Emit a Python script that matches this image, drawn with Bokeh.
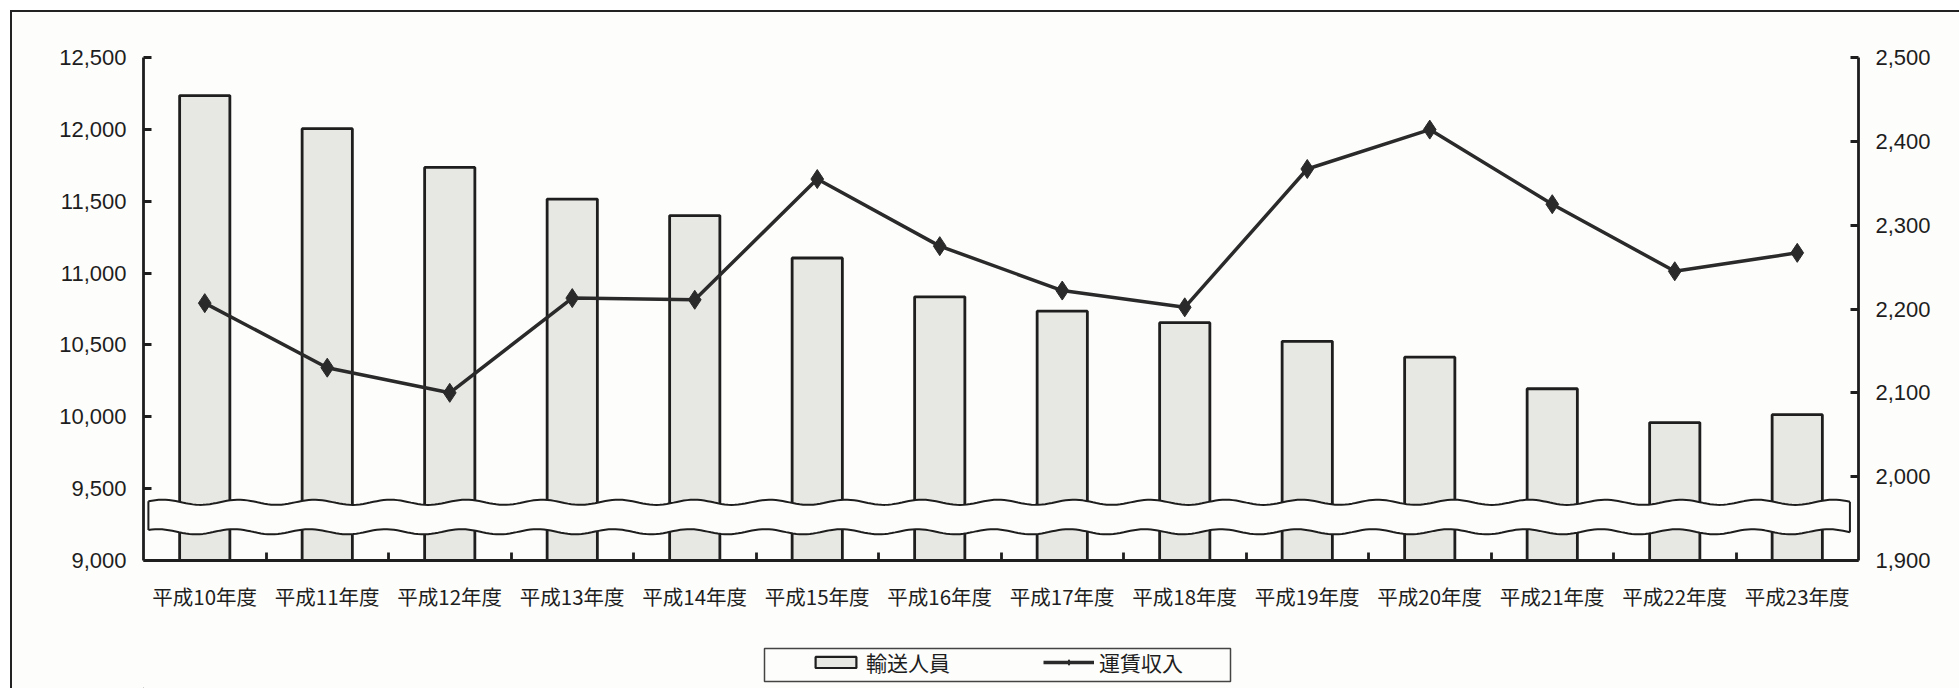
import numpy as np
from bokeh.plotting import figure
from bokeh.layouts import column
from bokeh.models import (Range1d, LinearAxis, FixedTicker, NumeralTickFormatter,
                          Legend, LegendItem)
from bokeh.embed import file_html
from bokeh.resources import INLINE

# ---- data ----
categories = ["平成10年度", "平成11年度", "平成12年度", "平成13年度", "平成14年度",
              "平成15年度", "平成16年度", "平成17年度", "平成18年度", "平成19年度",
              "平成20年度", "平成21年度", "平成22年度", "平成23年度"]
passengers = [12235, 12005, 11735, 11515, 11400, 11105, 10835, 10735,
              10655, 10525, 10415, 10195, 9960, 10015]          # 輸送人員 (left axis)
revenue = [2207, 2130, 2100, 2213, 2211, 2355, 2275, 2222,
           2202, 2367, 2414, 2325, 2245, 2267]                   # 運賃収入 (right axis)
left_ticks = [9000, 9500, 10000, 10500, 11000, 11500, 12000, 12500]
right_ticks = [1900, 2000, 2100, 2200, 2300, 2400, 2500]
series_names = ["輸送人員", "運賃収入"]

xs = [i + 0.5 for i in range(len(categories))]

NUM_FONT = "Liberation Sans"
CJK_FONT = "Noto Sans CJK JP"
INK = "#1e1e1e"
BG = "#fdfdfb"
BAR_FILL = "#e7e7e3"
LINE_C = "#2a2a2a"

# page offsets: 10px margin + 2px border -> content starts at (12, 12)
FRAME_L, FRAME_R = 143, 1858

p = figure(width=1947, height=601, output_backend="svg", toolbar_location=None,
           x_range=Range1d(0, len(categories)), y_range=Range1d(9000, 12500),
           min_border_left=131, min_border_right=101, min_border_top=45,
           min_border_bottom=52, background_fill_color=BG,
           border_fill_color=BG)
p.outline_line_color = None
p.grid.visible = False
p.extra_y_ranges = {"right": Range1d(1900, 2500)}

# bars
p.vbar(x=xs, top=passengers, bottom=9000, width=0.41,
       fill_color=BAR_FILL, line_color=INK, line_width=2.8)

# axis-break band (decoration)
wx = np.linspace(0.04, 13.93, 500)
top_wave = 9405 + 18 * np.sin(wx * 2 * np.pi / 0.62)
bot_wave = 9200 + 18 * np.sin(wx * 2 * np.pi / 0.62 + 0.4)
px = np.concatenate([wx, wx[::-1]])
py = np.concatenate([top_wave, bot_wave[::-1]])
p.patch(px, py, fill_color=BG, line_color=None)
p.line(wx, top_wave, line_color=INK, line_width=2)
p.line(wx, bot_wave, line_color=INK, line_width=2)
p.segment(x0=[wx[0], wx[-1]], y0=[bot_wave[0], bot_wave[-1]],
          x1=[wx[0], wx[-1]], y1=[top_wave[0], top_wave[-1]],
          line_color=INK, line_width=2)

# line
p.line(xs, revenue, y_range_name="right", line_color=LINE_C, line_width=3.5)
p.scatter(xs, revenue, y_range_name="right", marker="diamond", size=19,
          fill_color=LINE_C, line_color=LINE_C)

# axes
def style_axis(ax):
    ax.axis_line_color = INK
    ax.axis_line_width = 2.8
    ax.major_tick_line_color = INK
    ax.major_tick_line_width = 2.8
    ax.major_tick_in = 8
    ax.major_tick_out = 0
    ax.minor_tick_line_color = None
    ax.major_label_text_color = INK
    ax.major_label_text_font = NUM_FONT
    ax.major_label_text_font_size = "22px"
    ax.major_label_standoff = 17

ly = p.yaxis[0]
ly.ticker = FixedTicker(ticks=left_ticks)
ly.formatter = NumeralTickFormatter(format="0,0")
style_axis(ly)

ry = LinearAxis(y_range_name="right", ticker=FixedTicker(ticks=right_ticks),
                formatter=NumeralTickFormatter(format="0,0"))
style_axis(ry)
p.add_layout(ry, "right")

bx = p.xaxis[0]
bx.ticker = FixedTicker(ticks=xs, minor_ticks=list(range(1, len(categories))))
bx.major_label_overrides = {x: c for x, c in zip(xs, categories)}
bx.axis_line_color = INK
bx.axis_line_width = 2.8
bx.major_tick_line_color = None
bx.minor_tick_line_color = INK
bx.minor_tick_line_width = 2.8
bx.minor_tick_in = 8
bx.minor_tick_out = 0
bx.major_label_text_font = CJK_FONT
bx.major_label_text_font_size = "20.5px"
bx.major_label_text_color = INK
bx.major_label_standoff = 14

# ---- legend strip (its frame is aligned with the main frame by the column) ----
LH = 75
q = figure(width=1947, height=LH, output_backend="svg", toolbar_location=None,
           x_range=Range1d(FRAME_L, FRAME_R), y_range=Range1d(0, LH),
           x_axis_type=None, y_axis_type=None,
           min_border=0, background_fill_color=BG, border_fill_color=BG)
q.grid.visible = False
q.outline_line_color = None
# legend frame (decoration, page-pixel units)
q.quad(left=[764], right=[1230], top=[40], bottom=[7],
       fill_color=BG, line_color="#444444", line_width=1.5)
lb = q.vbar(x=[-500], top=[-500], bottom=[-600], width=10,
            fill_color=BAR_FILL, line_color=INK, line_width=2.2)
ll = q.line(x=[-600, -500], y=[-500, -500], line_color=LINE_C, line_width=3.5)
lm = q.scatter(x=[-550], y=[-500], marker="diamond", size=14,
               fill_color=LINE_C, line_color=LINE_C)
legend = Legend(items=[LegendItem(label=series_names[0], renderers=[lb]),
                       LegendItem(label=series_names[1], renderers=[ll, lm])],
                orientation="horizontal", location=(667, 11),
                label_text_font=CJK_FONT, label_text_font_size="21px",
                label_text_color=INK, glyph_width=51, glyph_height=14,
                spacing=93, padding=0, margin=0, label_standoff=5,
                border_line_color=None, background_fill_alpha=0.0)
q.add_layout(legend, "center")

layout = column(p, q, spacing=0)
layout.styles = {"border-top": "2px solid #222", "border-left": "2px solid #222",
                 "background-color": BG, "margin-left": "10px", "margin-top": "10px"}

open("out.html", "w").write(file_html(layout, INLINE))
